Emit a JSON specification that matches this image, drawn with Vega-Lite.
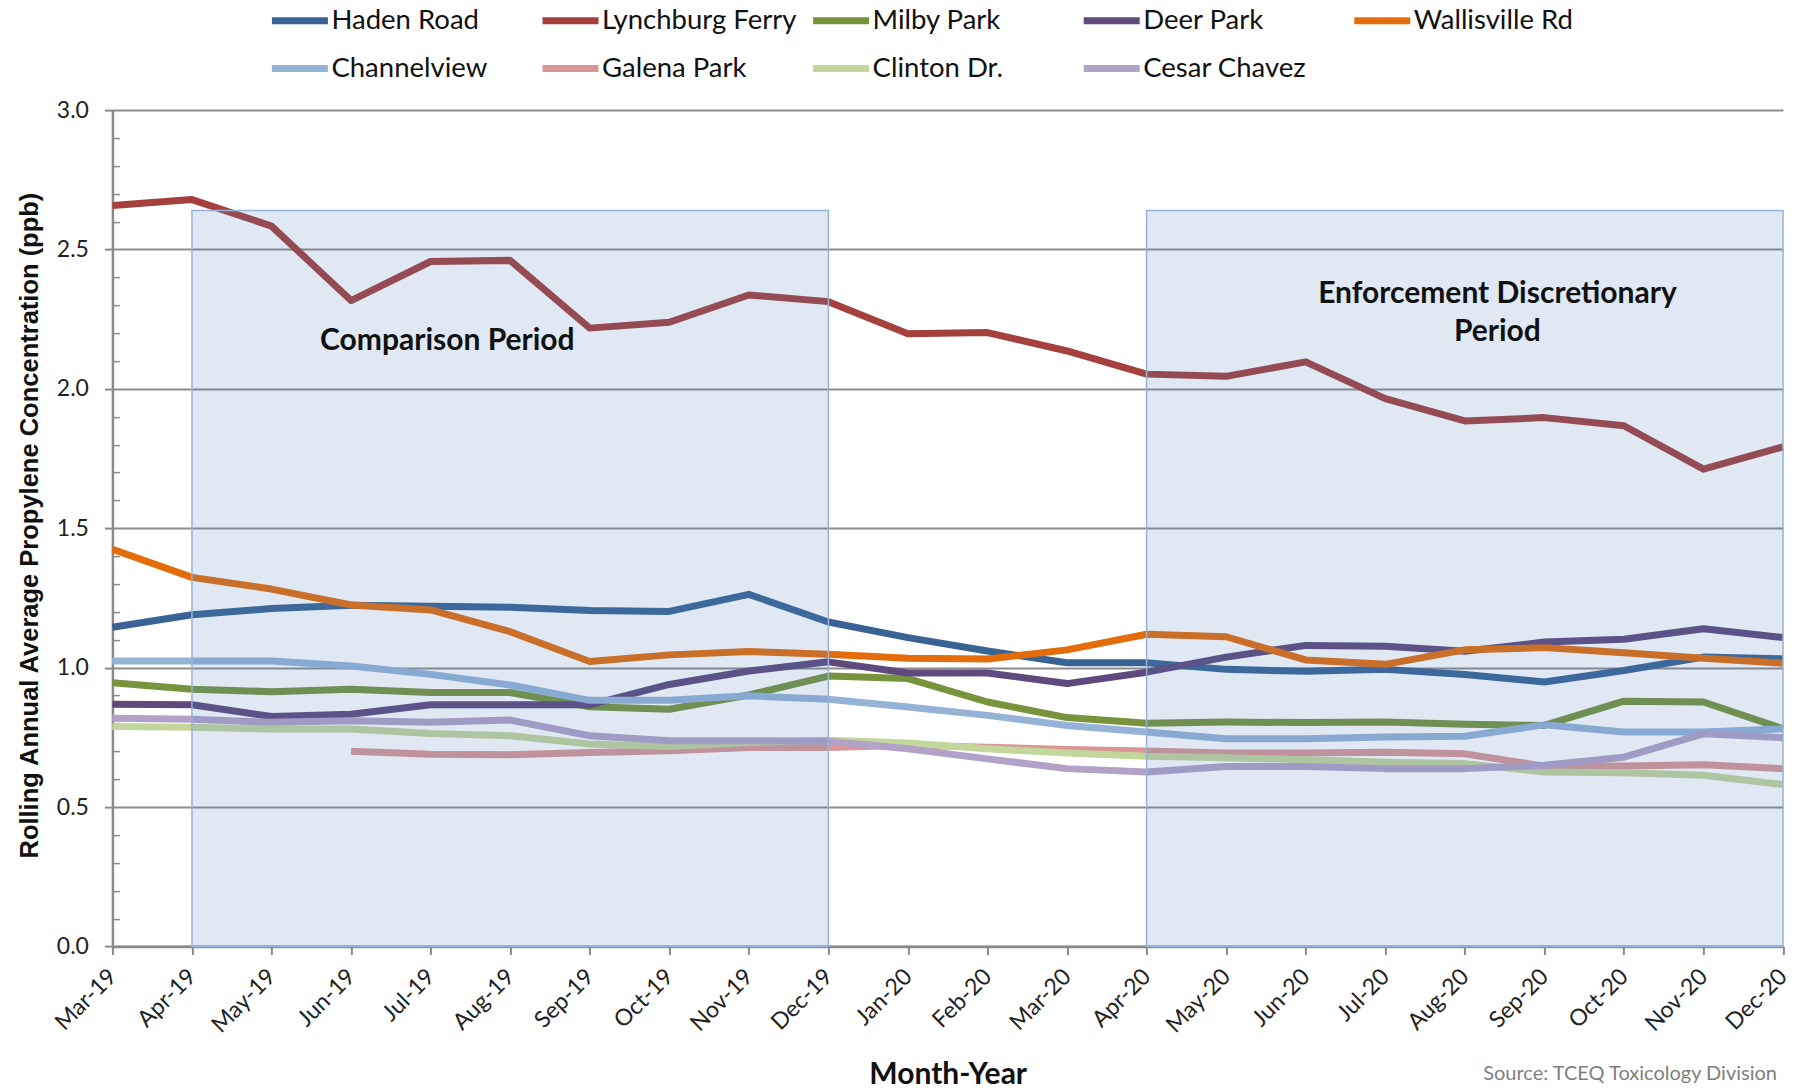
{
  "$schema": "https://vega.github.io/schema/vega-lite/v6.json",
  "width": 1670.6,
  "height": 836.4,
  "autosize": {"type": "none"},
  "padding": {"left": 112.4, "top": 110.1, "right": 16, "bottom": 143.5},
  "background": "white",
  "config": {"view": {"stroke": null}, "font": "Lato"},
  "datasets": {
    "series": [
      {"i":0,"s":"Haden Road","v":1.145},{"i":1,"s":"Haden Road","v":1.19},{"i":2,"s":"Haden Road","v":1.212},{"i":3,"s":"Haden Road","v":1.224},{"i":4,"s":"Haden Road","v":1.22},{"i":5,"s":"Haden Road","v":1.217},{"i":6,"s":"Haden Road","v":1.205},{"i":7,"s":"Haden Road","v":1.202},{"i":8,"s":"Haden Road","v":1.263},{"i":9,"s":"Haden Road","v":1.164},{"i":10,"s":"Haden Road","v":1.108},{"i":11,"s":"Haden Road","v":1.06},{"i":12,"s":"Haden Road","v":1.018},{"i":13,"s":"Haden Road","v":1.018},{"i":14,"s":"Haden Road","v":0.994},{"i":15,"s":"Haden Road","v":0.987},{"i":16,"s":"Haden Road","v":0.994},{"i":17,"s":"Haden Road","v":0.976},{"i":18,"s":"Haden Road","v":0.949},{"i":19,"s":"Haden Road","v":0.99},{"i":20,"s":"Haden Road","v":1.038},{"i":21,"s":"Haden Road","v":1.032},
      {"i":0,"s":"Lynchburg Ferry","v":2.658},{"i":1,"s":"Lynchburg Ferry","v":2.679},{"i":2,"s":"Lynchburg Ferry","v":2.584},{"i":3,"s":"Lynchburg Ferry","v":2.317},{"i":4,"s":"Lynchburg Ferry","v":2.457},{"i":5,"s":"Lynchburg Ferry","v":2.461},{"i":6,"s":"Lynchburg Ferry","v":2.218},{"i":7,"s":"Lynchburg Ferry","v":2.239},{"i":8,"s":"Lynchburg Ferry","v":2.337},{"i":9,"s":"Lynchburg Ferry","v":2.313},{"i":10,"s":"Lynchburg Ferry","v":2.198},{"i":11,"s":"Lynchburg Ferry","v":2.202},{"i":12,"s":"Lynchburg Ferry","v":2.136},{"i":13,"s":"Lynchburg Ferry","v":2.053},{"i":14,"s":"Lynchburg Ferry","v":2.045},{"i":15,"s":"Lynchburg Ferry","v":2.097},{"i":16,"s":"Lynchburg Ferry","v":1.965},{"i":17,"s":"Lynchburg Ferry","v":1.885},{"i":18,"s":"Lynchburg Ferry","v":1.897},{"i":19,"s":"Lynchburg Ferry","v":1.868},{"i":20,"s":"Lynchburg Ferry","v":1.712},{"i":21,"s":"Lynchburg Ferry","v":1.792},
      {"i":0,"s":"Milby Park","v":0.946},{"i":1,"s":"Milby Park","v":0.923},{"i":2,"s":"Milby Park","v":0.914},{"i":3,"s":"Milby Park","v":0.923},{"i":4,"s":"Milby Park","v":0.911},{"i":5,"s":"Milby Park","v":0.911},{"i":6,"s":"Milby Park","v":0.86},{"i":7,"s":"Milby Park","v":0.851},{"i":8,"s":"Milby Park","v":0.902},{"i":9,"s":"Milby Park","v":0.97},{"i":10,"s":"Milby Park","v":0.961},{"i":11,"s":"Milby Park","v":0.877},{"i":12,"s":"Milby Park","v":0.821},{"i":13,"s":"Milby Park","v":0.801},{"i":14,"s":"Milby Park","v":0.805},{"i":15,"s":"Milby Park","v":0.803},{"i":16,"s":"Milby Park","v":0.805},{"i":17,"s":"Milby Park","v":0.797},{"i":18,"s":"Milby Park","v":0.793},{"i":19,"s":"Milby Park","v":0.88},{"i":20,"s":"Milby Park","v":0.877},{"i":21,"s":"Milby Park","v":0.781},
      {"i":0,"s":"Deer Park","v":0.869},{"i":1,"s":"Deer Park","v":0.867},{"i":2,"s":"Deer Park","v":0.825},{"i":3,"s":"Deer Park","v":0.833},{"i":4,"s":"Deer Park","v":0.867},{"i":5,"s":"Deer Park","v":0.867},{"i":6,"s":"Deer Park","v":0.867},{"i":7,"s":"Deer Park","v":0.94},{"i":8,"s":"Deer Park","v":0.988},{"i":9,"s":"Deer Park","v":1.021},{"i":10,"s":"Deer Park","v":0.981},{"i":11,"s":"Deer Park","v":0.981},{"i":12,"s":"Deer Park","v":0.943},{"i":13,"s":"Deer Park","v":0.984},{"i":14,"s":"Deer Park","v":1.038},{"i":15,"s":"Deer Park","v":1.08},{"i":16,"s":"Deer Park","v":1.077},{"i":17,"s":"Deer Park","v":1.059},{"i":18,"s":"Deer Park","v":1.092},{"i":19,"s":"Deer Park","v":1.102},{"i":20,"s":"Deer Park","v":1.14},{"i":21,"s":"Deer Park","v":1.108},
      {"i":0,"s":"Wallisville Rd","v":1.425},{"i":1,"s":"Wallisville Rd","v":1.324},{"i":2,"s":"Wallisville Rd","v":1.282},{"i":3,"s":"Wallisville Rd","v":1.225},{"i":4,"s":"Wallisville Rd","v":1.207},{"i":5,"s":"Wallisville Rd","v":1.129},{"i":6,"s":"Wallisville Rd","v":1.022},{"i":7,"s":"Wallisville Rd","v":1.046},{"i":8,"s":"Wallisville Rd","v":1.058},{"i":9,"s":"Wallisville Rd","v":1.048},{"i":10,"s":"Wallisville Rd","v":1.034},{"i":11,"s":"Wallisville Rd","v":1.031},{"i":12,"s":"Wallisville Rd","v":1.064},{"i":13,"s":"Wallisville Rd","v":1.12},{"i":14,"s":"Wallisville Rd","v":1.111},{"i":15,"s":"Wallisville Rd","v":1.028},{"i":16,"s":"Wallisville Rd","v":1.012},{"i":17,"s":"Wallisville Rd","v":1.064},{"i":18,"s":"Wallisville Rd","v":1.072},{"i":19,"s":"Wallisville Rd","v":1.054},{"i":20,"s":"Wallisville Rd","v":1.034},{"i":21,"s":"Wallisville Rd","v":1.016},
      {"i":0,"s":"Channelview","v":1.024},{"i":1,"s":"Channelview","v":1.024},{"i":2,"s":"Channelview","v":1.024},{"i":3,"s":"Channelview","v":1.006},{"i":4,"s":"Channelview","v":0.976},{"i":5,"s":"Channelview","v":0.938},{"i":6,"s":"Channelview","v":0.883},{"i":7,"s":"Channelview","v":0.883},{"i":8,"s":"Channelview","v":0.899},{"i":9,"s":"Channelview","v":0.887},{"i":10,"s":"Channelview","v":0.859},{"i":11,"s":"Channelview","v":0.829},{"i":12,"s":"Channelview","v":0.793},{"i":13,"s":"Channelview","v":0.769},{"i":14,"s":"Channelview","v":0.745},{"i":15,"s":"Channelview","v":0.745},{"i":16,"s":"Channelview","v":0.751},{"i":17,"s":"Channelview","v":0.754},{"i":18,"s":"Channelview","v":0.795},{"i":19,"s":"Channelview","v":0.769},{"i":20,"s":"Channelview","v":0.769},{"i":21,"s":"Channelview","v":0.781},
      {"i":3,"s":"Galena Park","v":0.7},{"i":4,"s":"Galena Park","v":0.69},{"i":5,"s":"Galena Park","v":0.688},{"i":6,"s":"Galena Park","v":0.696},{"i":7,"s":"Galena Park","v":0.702},{"i":8,"s":"Galena Park","v":0.714},{"i":9,"s":"Galena Park","v":0.714},{"i":10,"s":"Galena Park","v":0.722},{"i":11,"s":"Galena Park","v":0.715},{"i":12,"s":"Galena Park","v":0.707},{"i":13,"s":"Galena Park","v":0.701},{"i":14,"s":"Galena Park","v":0.694},{"i":15,"s":"Galena Park","v":0.694},{"i":16,"s":"Galena Park","v":0.697},{"i":17,"s":"Galena Park","v":0.691},{"i":18,"s":"Galena Park","v":0.647},{"i":19,"s":"Galena Park","v":0.647},{"i":20,"s":"Galena Park","v":0.652},{"i":21,"s":"Galena Park","v":0.638},
      {"i":0,"s":"Clinton Dr.","v":0.789},{"i":1,"s":"Clinton Dr.","v":0.786},{"i":2,"s":"Clinton Dr.","v":0.78},{"i":3,"s":"Clinton Dr.","v":0.78},{"i":4,"s":"Clinton Dr.","v":0.764},{"i":5,"s":"Clinton Dr.","v":0.756},{"i":6,"s":"Clinton Dr.","v":0.726},{"i":7,"s":"Clinton Dr.","v":0.717},{"i":8,"s":"Clinton Dr.","v":0.732},{"i":9,"s":"Clinton Dr.","v":0.74},{"i":10,"s":"Clinton Dr.","v":0.73},{"i":11,"s":"Clinton Dr.","v":0.709},{"i":12,"s":"Clinton Dr.","v":0.694},{"i":13,"s":"Clinton Dr.","v":0.682},{"i":14,"s":"Clinton Dr.","v":0.677},{"i":15,"s":"Clinton Dr.","v":0.67},{"i":16,"s":"Clinton Dr.","v":0.661},{"i":17,"s":"Clinton Dr.","v":0.656},{"i":18,"s":"Clinton Dr.","v":0.626},{"i":19,"s":"Clinton Dr.","v":0.623},{"i":20,"s":"Clinton Dr.","v":0.614},{"i":21,"s":"Clinton Dr.","v":0.581},
      {"i":0,"s":"Cesar Chavez","v":0.819},{"i":1,"s":"Cesar Chavez","v":0.815},{"i":2,"s":"Cesar Chavez","v":0.804},{"i":3,"s":"Cesar Chavez","v":0.81},{"i":4,"s":"Cesar Chavez","v":0.804},{"i":5,"s":"Cesar Chavez","v":0.812},{"i":6,"s":"Cesar Chavez","v":0.756},{"i":7,"s":"Cesar Chavez","v":0.738},{"i":8,"s":"Cesar Chavez","v":0.738},{"i":9,"s":"Cesar Chavez","v":0.736},{"i":10,"s":"Cesar Chavez","v":0.709},{"i":11,"s":"Cesar Chavez","v":0.673},{"i":12,"s":"Cesar Chavez","v":0.638},{"i":13,"s":"Cesar Chavez","v":0.626},{"i":14,"s":"Cesar Chavez","v":0.646},{"i":15,"s":"Cesar Chavez","v":0.646},{"i":16,"s":"Cesar Chavez","v":0.638},{"i":17,"s":"Cesar Chavez","v":0.638},{"i":18,"s":"Cesar Chavez","v":0.65},{"i":19,"s":"Cesar Chavez","v":0.679},{"i":20,"s":"Cesar Chavez","v":0.763},{"i":21,"s":"Cesar Chavez","v":0.749}
    ],
    "periods": [
      {"name": "Comparison Period", "start": 1, "end": 9, "top": 2.64},
      {"name": "Enforcement Discretionary Period", "start": 13, "end": 21, "top": 2.64}
    ],
    "notes": [
      {"t": "Comparison Period", "x": 4.21, "y": 2.172},
      {"t": "Enforcement Discretionary", "x": 17.41, "y": 2.341},
      {"t": "Period", "x": 17.41, "y": 2.205}
    ],
    "source": [
      {"t": "Source: TCEQ Toxicology Division", "x": 21, "y": -0.457}
    ]
  },
  "layer": [
    {
      "data": {"name": "series"},
      "mark": {"type": "line", "strokeWidth": 7, "strokeJoin": "round"},
      "encoding": {
        "x": {
          "field": "i", "type": "quantitative",
          "scale": {"domain": [0, 21], "nice": false, "zero": false},
          "axis": {
            "values": [0,1,2,3,4,5,6,7,8,9,10,11,12,13,14,15,16,17,18,19,20,21],
            "labelExpr": "['Mar-19','Apr-19','May-19','Jun-19','Jul-19','Aug-19','Sep-19','Oct-19','Nov-19','Dec-19','Jan-20','Feb-20','Mar-20','Apr-20','May-20','Jun-20','Jul-20','Aug-20','Sep-20','Oct-20','Nov-20','Dec-20'][datum.value]",
            "labelAngle": 315, "labelAlign": "right", "labelBaseline": "middle",
            "labelFont": "Lato", "labelFontSize": 23, "labelColor": "#222", "labelPadding": 18,
            "labelOverlap": false, "labelBound": false, "labelFlush": false,
            "tickSize": 8, "tickColor": "#8a8a8a", "tickWidth": 2,
            "domainColor": "#8a8a8a", "domainWidth": 2.5, "grid": false,
            "title": "Month-Year", "titleFont": "Lato", "titleFontSize": 30, "titleFontWeight": "bold", "titleColor": "#111",
            "titleX": 835.3, "titleY": 127.5, "titleBaseline": "middle", "titleAlign": "center"
          }
        },
        "y": {
          "field": "v", "type": "quantitative",
          "scale": {"domain": [0, 3], "nice": false, "zero": true},
          "axis": {
            "values": [0, 0.5, 1, 1.5, 2, 2.5, 3], "format": ".1f",
            "labelFont": "Lato", "labelFontSize": 23, "labelColor": "#222", "labelPadding": 16,
            "tickSize": 8, "tickColor": "#8a8a8a", "tickWidth": 2,
            "domainColor": "#8a8a8a", "domainWidth": 2.5,
            "grid": true, "gridColor": "#8c8c8c", "gridWidth": 2,
            "title": "Rolling Annual Average Propylene Concentration (ppb)",
            "titleFont": "Liberation Sans", "titleFontSize": 25.5, "titleFontWeight": "bold", "titleColor": "#111",
            "titleX": -83, "titleY": 415, "titleAngle": 270, "titleAlign": "center", "titleBaseline": "middle"
          }
        },
        "color": {
          "field": "s", "type": "nominal",
          "scale": {
            "domain": ["Haden Road", "Lynchburg Ferry", "Milby Park", "Deer Park", "Wallisville Rd", "Channelview", "Galena Park", "Clinton Dr.", "Cesar Chavez"],
            "range": ["#3a6395", "#a5403d", "#77933c", "#5f4a7d", "#e46c0a", "#95b3d7", "#d99694", "#c3d69b", "#b3a2c7"]
          },
          "legend": {
            "orient": "none", "legendX": 156, "legendY": -121, "direction": "horizontal", "columns": 5,
            "gridAlign": "all", "columnPadding": 1.6, "rowPadding": 2, "padding": 0,
            "title": null, "labelFont": "Lato", "labelFontSize": 27.5, "labelColor": "#111", "labelOffset": 0, "labelLimit": 400,
            "symbolType": "stroke", "symbolSize": 3136, "symbolStrokeWidth": 7
          }
        }
      }
    },
    {
      "data": {"name": "periods"},
      "mark": {"type": "rect", "fill": "#4f81bd", "fillOpacity": 0.18, "stroke": "#95b3d7", "strokeWidth": 1.5},
      "encoding": {
        "x": {"field": "start", "type": "quantitative"},
        "x2": {"field": "end"},
        "y": {
          "field": "top", "type": "quantitative",
          "axis": {
            "orient": "left",
            "values": [0.1,0.2,0.3,0.4,0.6,0.7,0.8,0.9,1.1,1.2,1.3,1.4,1.6,1.7,1.8,1.9,2.1,2.2,2.3,2.4,2.6,2.7,2.8,2.9],
            "labels": false, "domain": false, "grid": false, "title": null,
            "ticks": true, "tickSize": -7, "tickColor": "#8a8a8a", "tickWidth": 1.5
          }
        },
        "y2": {"datum": 0}
      }
    },
    {
      "data": {"name": "notes"},
      "mark": {"type": "text", "font": "Lato", "fontSize": 30, "fontWeight": "bold", "color": "#111", "align": "center", "baseline": "middle"},
      "encoding": {
        "x": {"field": "x", "type": "quantitative"},
        "y": {"field": "y", "type": "quantitative", "axis": null},
        "text": {"field": "t"}
      }
    },
    {
      "data": {"name": "source"},
      "mark": {"type": "text", "font": "Lato", "fontSize": 20, "color": "#7f7f7f", "align": "right", "baseline": "middle", "dx": -6},
      "encoding": {
        "x": {"field": "x", "type": "quantitative"},
        "y": {"field": "y", "type": "quantitative", "axis": null},
        "text": {"field": "t"}
      }
    }
  ],
  "resolve": {"axis": {"y": "independent"}}
}
